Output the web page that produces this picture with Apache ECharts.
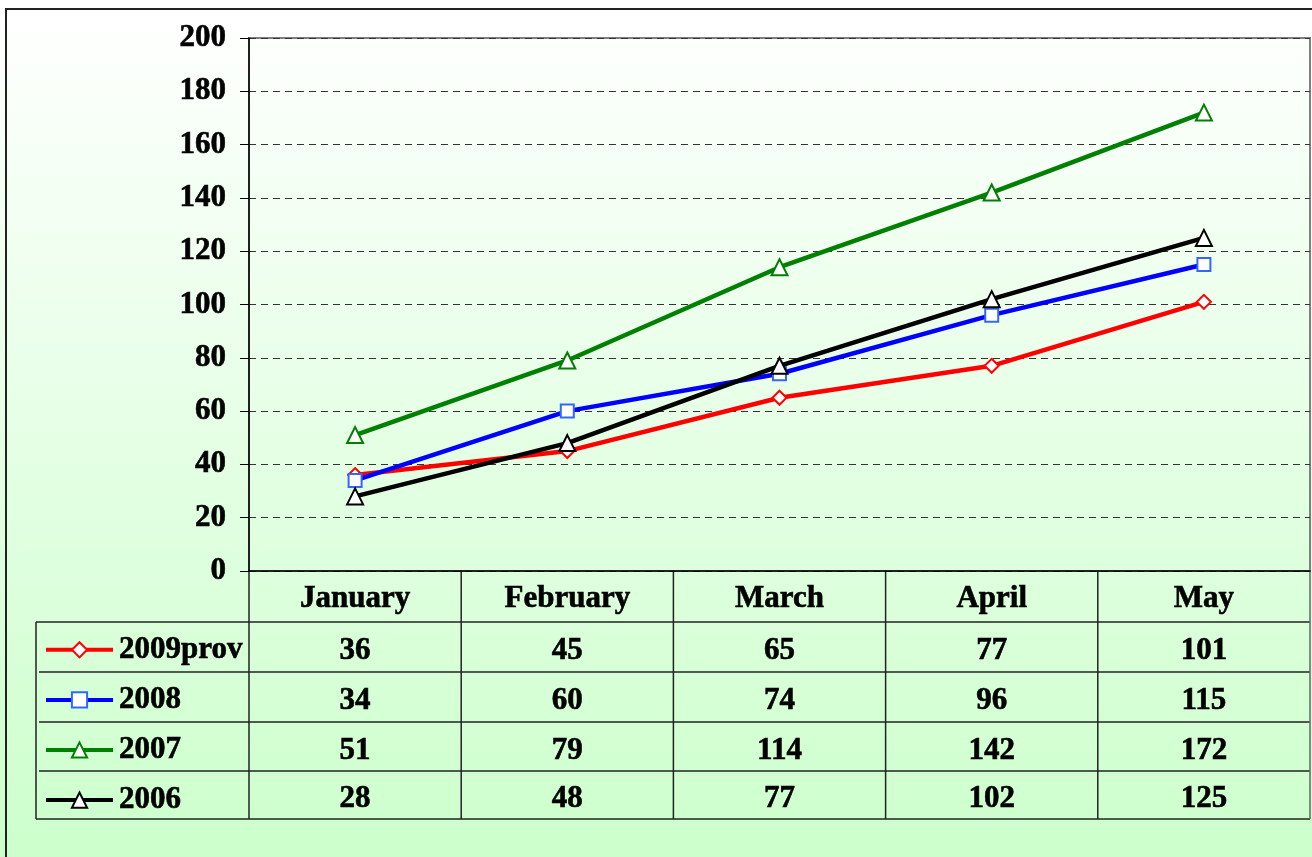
<!DOCTYPE html>
<html><head><meta charset="utf-8">
<script src="https://cdn.jsdelivr.net/npm/echarts@6/dist/echarts.min.js"></script>
<style>html,body{margin:0;padding:0;background:#fff}#c{width:1312px;height:857px}</style>
</head><body><div id="c"></div>
<script>
// ---- data ----
const categories = ['January', 'February', 'March', 'April', 'May'];
const seriesNames = ['2009prov', '2008', '2007', '2006'];
const v2009prov = [36, 45, 65, 77, 101];
const v2008 = [34, 60, 74, 96, 115];
const v2007 = [51, 79, 114, 142, 172];
const v2006 = [28, 48, 77, 102, 125];
const yMin = 0, yMax = 200, yStep = 20;

// ---- styles ----
const FONT = 'Liberation Serif';
const FS = 31;
const lineColors = ['#ff0000', '#0000ff', '#008000', '#000000'];
const markerBorder = ['#ff0000', '#3366ff', '#008000', '#000000'];
const symbols = ['diamond', 'rect', 'triangle', 'triangle'];
const symbolSizes = [14, 13, 16, 16];
const allValues = [v2009prov, v2008, v2007, v2006];

const G = { left: 249, top: 38, right: 1310, bottom: 571 };
const rowLines = [622, 672, 722, 771, 819];
const tableLeft = 36;
const txt = { color: '#000', fontFamily: FONT, fontWeight: 'bold', fontSize: FS, textBorderColor: '#000', textBorderWidth: 0.6 };

const chart = echarts.init(document.getElementById('c'), null, { renderer: 'canvas' });

const series = seriesNames.map((n, i) => ({
  name: n, type: 'line', data: allValues[i],
  symbol: symbols[i], symbolSize: symbolSizes[i], showAllSymbol: true,
  lineStyle: { color: lineColors[i], width: 4.5 },
  itemStyle: { color: '#ffffff', borderColor: markerBorder[i], borderWidth: 2 },
  emphasis: { disabled: true }, animation: false, z: 3 + i
}));

chart.setOption({
  animation: false,
  backgroundColor: { type: 'linear', x: 0, y: 0, x2: 0, y2: 1,
    colorStops: [{ offset: 0, color: '#ffffff' }, { offset: 1, color: '#ccffcc' }] },
  grid: { left: G.left, top: G.top, right: 1312 - G.right, bottom: 857 - G.bottom,
    show: true, borderColor: '#808080', borderWidth: 2, backgroundColor: 'transparent' },
  xAxis: {
    type: 'category', data: categories, boundaryGap: true,
    axisLine: { show: true, lineStyle: { color: '#000', width: 1.5 } },
    axisTick: { show: false },
    axisLabel: Object.assign({ margin: 12 }, txt),
    splitLine: { show: false }
  },
  yAxis: {
    type: 'value', min: yMin, max: yMax, interval: yStep,
    axisLine: { show: true, lineStyle: { color: '#000', width: 1.5 } },
    axisTick: { show: true, length: 9, lineStyle: { color: '#000', width: 1 } },
    axisLabel: Object.assign({ margin: 23, padding: [3, 0, 0, 0] }, txt),
    splitLine: { show: true, lineStyle: { color: '#333', width: 1, type: [7, 5] } }
  },
  legend: {
    data: seriesNames, orient: 'vertical', left: 44, top: 634, padding: 0,
    itemWidth: 67, itemHeight: 19, itemGap: 18.5,
    lineStyle: { width: 4 },
    textStyle: Object.assign({ lineHeight: 31, padding: [0, 0, 0, 1] }, txt),
    selectedMode: false
  },
  series: series
});

// ---- data table (cells built from the data arrays, positioned via the x axis) ----
const centers = categories.map(c => chart.convertToPixel({ xAxisIndex: 0 }, c));
const band = (G.right - G.left) / categories.length;
const g = [];
const ls = { stroke: '#222', lineWidth: 1.5 };
g.push({ type: 'rect', shape: { x: 6, y: 9, width: 1400, height: 900 }, style: { fill: null, stroke: '#222', lineWidth: 2 }, silent: true });
rowLines.forEach((y, k) => {
  g.push({ type: 'line', shape: { x1: (k === 0 || k === rowLines.length - 1) ? tableLeft : tableLeft + 3, y1: y, x2: G.right, y2: y }, style: ls, silent: true });
});
g.push({ type: 'line', shape: { x1: tableLeft, y1: rowLines[0], x2: tableLeft, y2: rowLines[rowLines.length - 1] }, style: ls, silent: true });
for (let k = 0; k <= categories.length; k++) {
  const x = G.left + band * k;
  g.push({ type: 'line', shape: { x1: x, y1: G.bottom, x2: x, y2: rowLines[rowLines.length - 1] },
    style: { stroke: k === categories.length ? '#666' : '#222', lineWidth: 1.5 }, silent: true });
}
allValues.forEach((vals, i) => {
  const yc = (rowLines[i] + rowLines[i + 1]) / 2 + 4;
  vals.forEach((v, j) => {
    g.push({ type: 'text', x: centers[j], y: yc, silent: true,
      style: { text: String(v), fill: '#000', stroke: '#000', lineWidth: 0.6,
        font: 'bold ' + FS + 'px "' + FONT + '"', align: 'center', verticalAlign: 'middle' } });
  });
});
chart.setOption({ graphic: g });
</script>
</body></html>
